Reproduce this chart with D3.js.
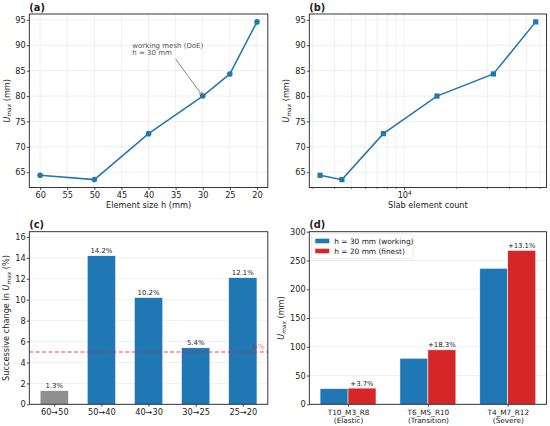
<!DOCTYPE html>
<html>
<head>
<meta charset="utf-8">
<script src="https://cdn.jsdelivr.net/npm/d3@7"></script>
<style>
body { margin: 0; background: #fff; }
svg { display: block; font-family: "DejaVu Sans", sans-serif; }
</style>
</head>
<body>
<svg id="fig" width="550" height="426"></svg>
<script>
// mesh study: element size vs peak displacement
let mesh_sizes = [60, 50, 40, 30, 25, 20];
let u_max = [64.4, 63.55, 72.6, 80.0, 84.35, 94.6];
let element_counts = [3300, 4400, 7600, 15400, 32400, 56600];

// successive change between refinements (%)
let step_labels = ['60→50', '50→40', '40→30', '30→25', '25→20'];
let step_change = [1.3, 14.2, 10.2, 5.4, 12.1];
let threshold = 5;

// verification cases, working vs finest mesh
let case_names = ['T10_M3_R8', 'T6_M5_R10', 'T4_M7_R12'];
let case_regimes = ['(Elastic)', '(Transition)', '(Severe)'];
let u_working = [27.1, 80.0, 236.4];
let u_finest = [28.1, 94.6, 267.4];
let finest_gain = ['+3.7%', '+18.3%', '+13.1%'];
let series_names = ['h = 30 mm (working)', 'h = 20 mm (finest)'];

let blue = '#1f77b4', red = '#d62728', grey = '#8f8f8f';
let gridColor = '#ebebeb';
let ink = '#222';
let tick_font = 8.2;

let col_x = [[29.3, 267.8], [309.3, 546.5]];
let row_y = [[14, 187.5], [231.7, 404.3]];

let svg = d3.select('#fig');
svg.append('rect').attr('width', 550).attr('height', 426).attr('fill', '#fff');

function pad(ext, f) {
	f = f || 0.05;
	let d = (ext[1] - ext[0]) * f;
	return [ext[0] - d, ext[1] + d];
}

function make_panel(col, row, label) {
	let [x0, x1] = col_x[col], [y0, y1] = row_y[row];
	let g = svg.append('g');
	let grid = g.append('g');
	let marks = g.append('g');
	g.append('text')
		.attr('x', x0).attr('y', y0 - 3.4)
		.attr('font-weight', 'bold').attr('font-size', 9.8)
		.attr('fill', ink)
		.text(label);
	return {g, grid, marks, x0, x1, y0, y1};
}

function finish_frame(p) {
	p.g.append('rect')
		.attr('x', p.x0).attr('y', p.y0)
		.attr('width', p.x1 - p.x0).attr('height', p.y1 - p.y0)
		.attr('fill', 'none').attr('stroke', ink).attr('stroke-width', 0.9);
}

function style_axis(sel) {
	sel.attr('font-family', null).attr('font-size', tick_font);
	sel.select('.domain').remove();
	sel.selectAll('.tick line').attr('stroke', ink).attr('stroke-width', 0.8);
	sel.selectAll('.tick text').attr('fill', ink);
}

function y_axis(p, y, ticks) {
	p.grid.selectAll('.hgrid')
		.data(ticks).enter().append('line')
		.attr('x1', p.x0).attr('x2', p.x1)
		.attr('y1', d => y(d)).attr('y2', d => y(d))
		.attr('stroke', gridColor).attr('stroke-width', 0.8);
	p.g.append('g')
		.attr('transform', `translate(${p.x0},0)`)
		.call(d3.axisLeft(y).tickValues(ticks).tickSize(2.5).tickPadding(1.2))
		.call(style_axis);
}

// U_max label, rotated
function umax_label(p, x, before, after) {
	let t = p.g.append('text')
		.attr('transform', `translate(${x},${(p.y0 + p.y1) / 2}) rotate(-90)`)
		.attr('text-anchor', 'middle')
		.attr('font-size', 8.2).attr('fill', ink);
	t.append('tspan').text(before);
	t.append('tspan').attr('font-style', 'italic').text('U');
	t.append('tspan').attr('font-style', 'italic').attr('font-size', 5.8).attr('dy', 1.6).text('max');
	t.append('tspan').attr('dy', -1.6).text(after);
}

function x_label(p, y, txt) {
	p.g.append('text')
		.attr('x', (p.x0 + p.x1) / 2).attr('y', y)
		.attr('text-anchor', 'middle')
		.attr('font-size', 8.2).attr('fill', ink)
		.text(txt);
}

// ---------- (a) U_max vs element size ----------
let pa = make_panel(0, 0, '(a)');
let xa_dom = pad(d3.extent(mesh_sizes));
let xa = d3.scaleLinear().domain([xa_dom[1], xa_dom[0]]).range([pa.x0, pa.x1]);
let ya = d3.scaleLinear().domain(pad(d3.extent(u_max))).range([pa.y1, pa.y0]);
let xa_ticks = d3.range(20, 61, 5);

pa.grid.selectAll('.vgrid')
	.data(xa_ticks).enter().append('line')
	.attr('x1', d => xa(d)).attr('x2', d => xa(d))
	.attr('y1', pa.y0).attr('y2', pa.y1)
	.attr('stroke', gridColor).attr('stroke-width', 0.8);
y_axis(pa, ya, d3.range(65, 96, 5));
pa.g.append('g')
	.attr('transform', `translate(0,${pa.y1})`)
	.call(d3.axisBottom(xa).tickValues(xa_ticks).tickSize(2.5).tickPadding(2))
	.call(style_axis);

pa.marks.append('path')
	.datum(mesh_sizes.map((h, i) => [h, u_max[i]]))
	.attr('fill', 'none').attr('stroke', blue).attr('stroke-width', 1.5)
	.attr('d', d3.line().x(d => xa(d[0])).y(d => ya(d[1])));
pa.marks.selectAll('.pt')
	.data(mesh_sizes).enter().append('circle')
	.attr('cx', d => xa(d)).attr('cy', (d, i) => ya(u_max[i]))
	.attr('r', 2.8).attr('fill', blue);

// annotation on the working mesh
let annot_text_at = [43, 88];
let annot_arrow_from = [35, 87.3];
let work_i = mesh_sizes.indexOf(30);
let at = pa.g.append('text')
	.attr('font-size', 7).attr('fill', '#555');
at.append('tspan').attr('x', xa(annot_text_at[0])).attr('y', ya(annot_text_at[1]) - 7.7).text('working mesh (DoE)');
at.append('tspan').attr('x', xa(annot_text_at[0])).attr('y', ya(annot_text_at[1])).text('h = 30 mm');
{
	let sx = xa(annot_arrow_from[0]), sy = ya(annot_arrow_from[1]);
	let ex = xa(mesh_sizes[work_i]), ey = ya(u_max[work_i]);
	let ang = Math.atan2(ey - sy, ex - sx);
	let hl = 4.5, spread = 0.4;
	pa.g.append('path')
		.attr('d', `M${sx},${sy}L${ex},${ey}` +
			`M${ex - hl * Math.cos(ang - spread)},${ey - hl * Math.sin(ang - spread)}L${ex},${ey}` +
			`L${ex - hl * Math.cos(ang + spread)},${ey - hl * Math.sin(ang + spread)}`)
		.attr('fill', 'none').attr('stroke', '#666').attr('stroke-width', 0.8);
}
finish_frame(pa);
umax_label(pa, 9.5, '', ' (mm)');
x_label(pa, 207.8, 'Element size h (mm)');

// ---------- (b) U_max vs element count (log) ----------
let pb = make_panel(1, 0, '(b)');
let lb = pad(d3.extent(element_counts).map(Math.log10));
let xb = d3.scaleLog().domain([10 ** lb[0], 10 ** lb[1]]).range([pb.x0, pb.x1]);
let yb = d3.scaleLinear().domain(pad(d3.extent(u_max))).range([pb.y1, pb.y0]);
let xb_all = xb.ticks();
let xb_major = xb_all.filter(d => Math.abs(Math.log10(d) - Math.round(Math.log10(d))) < 1e-9);
let xb_minor = xb_all.filter(d => xb_major.indexOf(d) < 0);

pb.grid.selectAll('.vgrid')
	.data(xb_all).enter().append('line')
	.attr('x1', d => xb(d)).attr('x2', d => xb(d))
	.attr('y1', pb.y0).attr('y2', pb.y1)
	.attr('stroke', gridColor).attr('stroke-width', 0.8);
y_axis(pb, yb, d3.range(65, 96, 5));
pb.g.selectAll('.minor')
	.data(xb_minor).enter().append('line')
	.attr('x1', d => xb(d)).attr('x2', d => xb(d))
	.attr('y1', pb.y1).attr('y2', pb.y1 + 1.6)
	.attr('stroke', ink).attr('stroke-width', 0.6);
let xb_axis = pb.g.append('g')
	.attr('transform', `translate(0,${pb.y1})`)
	.call(d3.axisBottom(xb).tickValues(xb_major).tickSize(2.5).tickPadding(2).tickFormat(''))
	.call(style_axis);
xb_axis.selectAll('.tick').each(function(d) {
	let t = d3.select(this).append('text')
		.attr('y', 10.3).attr('text-anchor', 'middle').attr('fill', ink);
	t.append('tspan').text('10');
	t.append('tspan').attr('font-size', 5.8).attr('dy', -3.3).text(Math.round(Math.log10(d)));
});

pb.marks.append('path')
	.datum(element_counts.map((n, i) => [n, u_max[i]]))
	.attr('fill', 'none').attr('stroke', blue).attr('stroke-width', 1.5)
	.attr('d', d3.line().x(d => xb(d[0])).y(d => yb(d[1])));
pb.marks.selectAll('.pt')
	.data(element_counts).enter().append('rect')
	.attr('x', d => xb(d) - 2.6).attr('y', (d, i) => yb(u_max[i]) - 2.6)
	.attr('width', 5.2).attr('height', 5.2).attr('fill', blue);
finish_frame(pb);
umax_label(pb, 289, '', ' (mm)');
x_label(pb, 208, 'Slab element count');

// ---------- (c) successive change ----------
let pc = make_panel(0, 1, '(c)');
let bw_c = 0.6;
let xc = d3.scaleLinear().domain(pad([-bw_c / 2, step_labels.length - 1 + bw_c / 2])).range([pc.x0, pc.x1]);
let y_top_c = 16.5;
let yc = d3.scaleLinear().domain([0, y_top_c]).range([pc.y1, pc.y0]);

y_axis(pc, yc, d3.range(0, 17, 2));
pc.g.append('g')
	.attr('transform', `translate(0,${pc.y1})`)
	.call(d3.axisBottom(xc).tickValues(d3.range(step_labels.length)).tickSize(2.5).tickPadding(2)
		.tickFormat(i => step_labels[i]))
	.call(style_axis);

pc.marks.selectAll('.bar')
	.data(step_change).enter().append('rect')
	.attr('x', (d, i) => xc(i - bw_c / 2))
	.attr('width', (d, i) => xc(i + bw_c / 2) - xc(i - bw_c / 2))
	.attr('y', d => yc(d)).attr('height', d => yc(0) - yc(d))
	.attr('fill', d => d < threshold ? grey : blue)
	.attr('stroke', '#fff').attr('stroke-width', 0.5);
pc.marks.selectAll('.blab')
	.data(step_change).enter().append('text')
	.attr('x', (d, i) => xc(i)).attr('y', d => yc(d) - 2.8)
	.attr('text-anchor', 'middle').attr('font-size', 6.9).attr('fill', ink)
	.text(d => d.toFixed(1) + '%');
pc.marks.append('line')
	.attr('x1', pc.x0).attr('x2', pc.x1)
	.attr('y1', yc(threshold)).attr('y2', yc(threshold))
	.attr('stroke', red).attr('stroke-opacity', 0.8).attr('stroke-width', 1.1)
	.attr('stroke-dasharray', '4,2.4');
pc.marks.append('text')
	.attr('x', pc.x1 - 3).attr('y', yc(threshold) - 3.4)
	.attr('text-anchor', 'end').attr('font-size', 7.4).attr('fill', red).attr('fill-opacity', 0.65)
	.text(threshold + '%');
finish_frame(pc);
umax_label(pc, 9, 'Successive change in ', ' (%)');

// ---------- (d) working vs finest ----------
let pd = make_panel(1, 1, '(d)');
let bw_d = 0.35;
let xd = d3.scaleLinear().domain(pad([-bw_d, case_names.length - 1 + bw_d])).range([pd.x0, pd.x1]);
let yd = d3.scaleLinear().domain([0, 300]).range([pd.y1, pd.y0]);

y_axis(pd, yd, d3.range(0, 301, 50));
let xd_axis = pd.g.append('g')
	.attr('transform', `translate(0,${pd.y1})`)
	.call(d3.axisBottom(xd).tickValues(d3.range(case_names.length)).tickSize(2.5).tickPadding(2).tickFormat(''))
	.call(style_axis);
xd_axis.selectAll('.tick').each(function(i) {
	let t = d3.select(this).append('text')
		.attr('text-anchor', 'middle').attr('fill', ink).attr('font-size', 7.3);
	t.append('tspan').attr('x', 0).attr('y', 10.6).text(case_names[i]);
	t.append('tspan').attr('x', 0).attr('y', 18.6).text(case_regimes[i]);
});

[[u_working, -bw_d, blue], [u_finest, 0, red]].forEach(([vals, off, col]) => {
	pd.marks.selectAll(null)
		.data(vals).enter().append('rect')
		.attr('x', (d, i) => xd(i + off))
		.attr('width', xd(bw_d) - xd(0))
		.attr('y', d => yd(d)).attr('height', d => yd(0) - yd(d))
		.attr('fill', col)
		.attr('stroke', '#fff').attr('stroke-width', 0.5);
});
pd.marks.selectAll('.gain')
	.data(finest_gain).enter().append('text')
	.attr('x', (d, i) => xd(i + bw_d / 2))
	.attr('y', (d, i) => yd(Math.max(u_working[i], u_finest[i])) - 2.4)
	.attr('text-anchor', 'middle').attr('font-size', 6.9).attr('fill', ink)
	.text(d => d);

// legend
let leg = pd.g.append('g').attr('transform', `translate(${pd.x0 + 2},${pd.y0 + 2})`);
leg.append('rect')
	.attr('width', 102).attr('height', 25).attr('rx', 2)
	.attr('fill', '#fff').attr('fill-opacity', 0.8)
	.attr('stroke', '#e2e2e2').attr('stroke-width', 0.7);
series_names.forEach((s, k) => {
	leg.append('rect')
		.attr('x', 4).attr('y', 5 + k * 10)
		.attr('width', 14).attr('height', 4.6)
		.attr('fill', k ? red : blue);
	leg.append('text')
		.attr('x', 23).attr('y', 10 + k * 10)
		.attr('font-size', 7.4).attr('fill', ink)
		.text(s);
});
finish_frame(pd);
umax_label(pd, 284, '', ' (mm)');
</script>
</body>
</html>
